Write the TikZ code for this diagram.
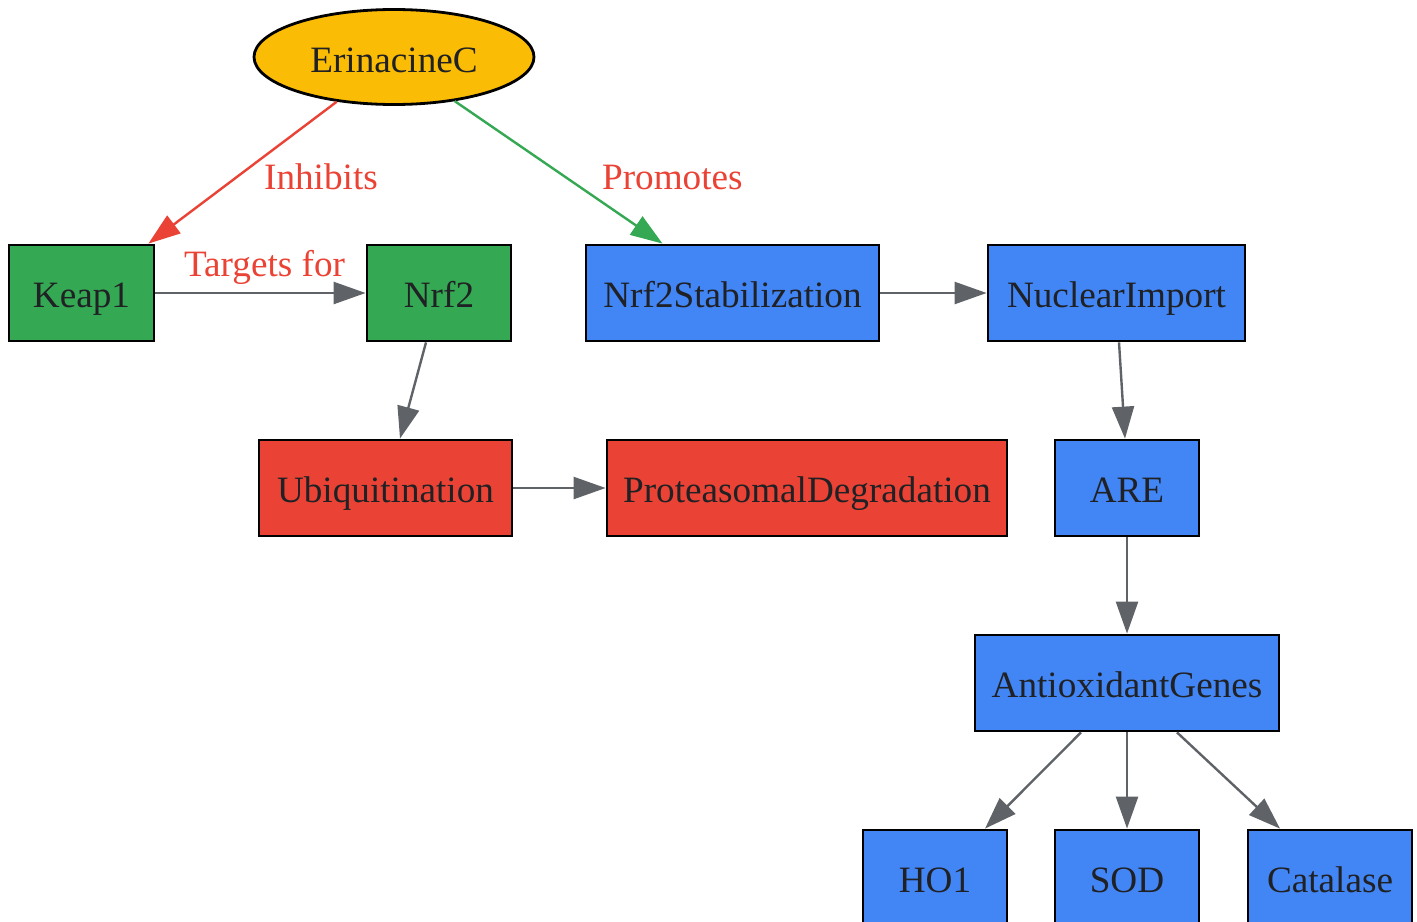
\documentclass[tikz,border=0pt]{standalone}
\usepackage{fontspec}
\setmainfont{Liberation Serif}
\usetikzlibrary{arrows.meta,shapes.geometric}

\definecolor{gGreen}{HTML}{34A853}
\definecolor{gBlue}{HTML}{4285F4}
\definecolor{gRed}{HTML}{EA4335}
\definecolor{gYellow}{HTML}{FBBC05}
\definecolor{gGray}{HTML}{5F6368}
\definecolor{gText}{HTML}{202124}

\begin{document}
\begin{tikzpicture}[x=0.5pt,y=-0.5pt,
    box/.style={draw=black,line width=1.4pt,inner sep=0pt,minimum height=48pt,
      text=gText,font=\fontsize{18.6}{22}\selectfont,text height=18pt,text depth=4pt},
    greenbox/.style={box,fill=gGreen},
    bluebox/.style={box,fill=gBlue},
    redbox/.style={box,fill=gRed},
    link/.style={draw=gGray,line width=1.2pt,-{Triangle[length=16pt,width=11pt]}},
    lbl/.style={text=gRed,font=\fontsize{18.6}{22}\selectfont,inner sep=0pt}]
  \useasboundingbox (0,0) rectangle (1417,921);
  % The compound on top, everything else hangs below it.
  \node[ellipse,draw=black,line width=1.4pt,fill=gYellow,minimum width=140pt,
    minimum height=47.5pt,inner sep=0pt,text=gText,text height=18pt,text depth=3pt,
    font=\fontsize{18.6}{22}\selectfont]
    (erin) at (394,57) {ErinacineC};
  % Row 1
  \node[greenbox,minimum width=72.5pt] (keap) at (81.5,293) {Keap1};
  \node[greenbox,minimum width=72pt] (nrf2) at (439,293) {Nrf2};
  \node[bluebox,minimum width=146.5pt] (stab) at (732.5,293) {Nrf2Stabilization};
  \node[bluebox,minimum width=128.5pt] (nucl) at (1116.5,293) {NuclearImport};
  % Row 2
  \node[redbox,minimum width=126.5pt] (ubiq) at (385.5,488) {Ubiquitination};
  \node[redbox,minimum width=200pt] (prot) at (807,488) {ProteasomalDegradation};
  \node[bluebox,minimum width=72pt] (are) at (1127,488) {ARE};
  % Row 3 and the genes
  \node[bluebox,minimum width=152pt] (genes) at (1127,683) {AntioxidantGenes};
  \node[bluebox,minimum width=72pt] (ho1) at (935,878) {HO1};
  \node[bluebox,minimum width=72pt] (sod) at (1127,878) {SOD};
  \node[bluebox,minimum width=82pt] (cat) at (1330,878) {Catalase};

  % Edges
  \draw[link,draw=gRed,-{Triangle[length=16pt,width=11pt,fill=gRed]}]
    (erin.218) -- ([xshift=-3.5pt]keap.north east)
    node[lbl,pos=0.53,anchor=west,xshift=13pt] {Inhibits};
  \draw[link,draw=gGreen,-{Triangle[length=16pt,width=11pt,fill=gGreen]}]
    (erin.324) -- ([xshift=-35pt]stab.north)
    node[lbl,pos=0.535,anchor=west,xshift=17.5pt] {Promotes};
  \draw[link] (keap) -- (nrf2) node[lbl,midway,above=3.5pt,xshift=2pt] {Targets for};
  \draw[link] ([xshift=-6.5pt]nrf2.south) -- ([xshift=7.25pt]ubiq.north);
  \draw[link] (ubiq) -- (prot);
  \draw[link] (stab) -- (nucl);
  \draw[link] ([xshift=1.25pt]nucl.south) -- ([xshift=-1pt]are.north);
  \draw[link] (are) -- (genes);
  \draw[link] ([xshift=-23pt]genes.south) -- ([xshift=25pt]ho1.north);
  \draw[link] (genes) -- (sod);
  \draw[link] ([xshift=25pt]genes.south) -- ([xshift=-25pt]cat.north);
\end{tikzpicture}
\end{document}
